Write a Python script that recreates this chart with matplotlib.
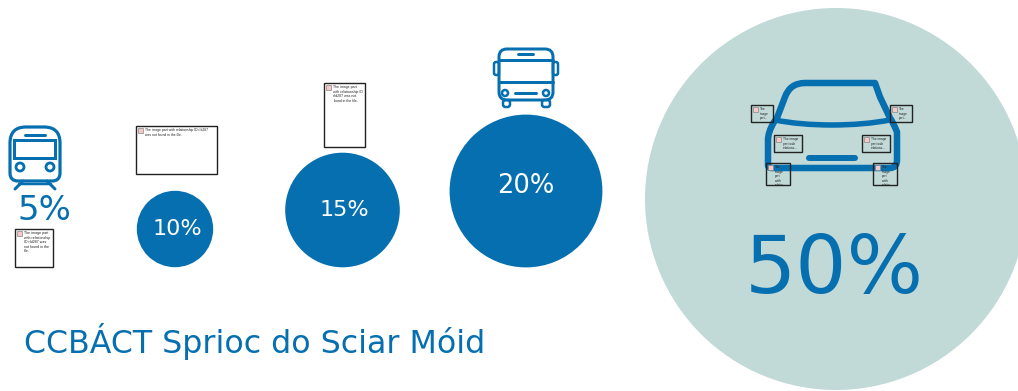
import matplotlib
matplotlib.use("Agg")
import matplotlib.pyplot as plt
from matplotlib.patches import Circle, FancyBboxPatch, Rectangle, PathPatch
from matplotlib.path import Path

shares = [5, 10, 15, 20, 50]
caption = "CCBÁCT Sprioc do Sciar Móid"
BLUE = "#066FB0"
TEAL = "#C1D9D7"
PX_PER_UNIT = 3.82

fig = plt.figure(figsize=(10.18, 3.91), dpi=100)
ax = fig.add_axes([0, 0, 1, 1])
ax.set_xlim(0, 1018)
ax.set_ylim(391, 0)
ax.axis("off")

def px(v):
    return v * 0.72

def line(pts, lw, color=BLUE):
    xs, ys = zip(*pts)
    ax.plot(xs, ys, color=color, lw=px(lw), solid_capstyle="round", solid_joinstyle="round", zorder=5)

def rbox(x0, y0, x1, y1, r, lw, fc="none"):
    ax.add_patch(FancyBboxPatch((x0 + r, y0 + r), x1 - x0 - 2 * r, y1 - y0 - 2 * r,
                                boxstyle=f"round,pad={r},rounding_size={r}",
                                fc=fc, ec=BLUE, lw=px(lw), zorder=5))

def ring(x, y, r, lw):
    ax.add_patch(Circle((x, y), r, fc="none", ec=BLUE, lw=px(lw), zorder=5))

def placeholder(x0, y0, x1, y1, text, fs=2.5, z=8, fc="white"):
    box = Rectangle((x0, y0), x1 - x0, y1 - y0, fc=fc, ec="#222222", lw=1.0, zorder=z)
    ax.add_patch(box)
    ax.add_patch(Rectangle((x0 + 2, y0 + 2), 5, 5, fc="#F8C8C8", ec="#888888", lw=0.5, zorder=z + 1))
    t = ax.text(x0 + 9, y0 + 2, text, fontsize=fs, color="#222222", va="top", ha="left",
                family="Liberation Sans", zorder=z + 1, linespacing=1.2)
    t.set_clip_path(box)

# circles
centres = {10: (175, 229), 15: (342.5, 210), 20: (526, 191), 50: (836, 199)}
colors = {10: BLUE, 15: BLUE, 20: BLUE, 50: TEAL}
for v in shares[1:]:
    ax.add_patch(Circle(centres[v], v * PX_PER_UNIT, fc=colors[v], ec="none", zorder=1))

# labels
ax.text(44, 211, f"{shares[0]}%", color=BLUE, fontsize=24.5, ha="center", va="center", zorder=6)
ax.text(177, 229, f"{shares[1]}%", color="white", fontsize=16, ha="center", va="center", zorder=6)
ax.text(344, 210, f"{shares[2]}%", color="white", fontsize=16, ha="center", va="center", zorder=6)
ax.text(526, 186, f"{shares[3]}%", color="white", fontsize=18.5, ha="center", va="center", zorder=6)
ax.text(834, 271, f"{shares[4]}%", color=BLUE, fontsize=58, ha="center", va="center", zorder=6)
ax.text(24, 342, caption, color=BLUE, fontsize=22.8, ha="left", va="center", zorder=6)

# train
tv = [(10, 173), (10, 143), (10, 127), (26, 127), (44, 127), (60, 127), (60, 143), (60, 173),
      (60, 181), (52, 181), (18, 181), (10, 181), (10, 173)]
tc = [Path.MOVETO, Path.LINETO, Path.CURVE3, Path.CURVE3, Path.LINETO, Path.CURVE3, Path.CURVE3, Path.LINETO,
      Path.CURVE3, Path.CURVE3, Path.LINETO, Path.CURVE3, Path.CURVE3]
ax.add_patch(PathPatch(Path(tv, tc), fc="none", ec=BLUE, lw=px(3.2), zorder=5))
ax.add_patch(Rectangle((14, 140), 41, 18, fc="none", ec=BLUE, lw=px(3), zorder=5))
line([(25, 135), (45, 135)], 3)
ring(20, 167, 4, 2.8)
ring(50, 167, 4, 2.8)
line([(23, 181), (15, 189)], 3)
line([(47, 181), (55, 189)], 3)
line([(19, 184), (51, 184)], 2.5)

# bus
rbox(499, 49, 553, 100, 8, 3)
line([(499, 59.5), (553, 59.5)], 3)
line([(499, 82), (553, 82)], 3)
line([(518, 54), (533, 54)], 3)
rbox(494, 62, 499, 75, 2, 2.5)
rbox(553, 62, 558, 75, 2, 2.5)
ring(505, 93, 3, 2.5)
ring(546, 93, 3, 2.5)
line([(515, 93), (536, 93)], 3)
rbox(503, 100, 510, 107, 2.5, 2.5)
rbox(542, 100, 550, 107, 2.5, 2.5)

# car
verts = [(771, 168), (768, 168), (768, 165), (768, 140), (768, 132), (774, 122), (777, 118),
         (785, 97), (790, 83), (805, 83), (815, 83), (850, 83), (864, 83), (875, 83), (880, 97),
         (890, 118), (893, 122), (897, 132), (897, 140), (897, 160), (897, 168), (890, 168), (885, 168)]
codes = [Path.MOVETO, Path.CURVE3, Path.CURVE3, Path.LINETO, Path.CURVE3, Path.CURVE3, Path.LINETO,
         Path.LINETO, Path.CURVE3, Path.CURVE3, Path.LINETO, Path.LINETO, Path.CURVE3, Path.CURVE3, Path.LINETO,
         Path.LINETO, Path.CURVE3, Path.CURVE3, Path.LINETO, Path.LINETO, Path.CURVE3, Path.CURVE3, Path.CLOSEPOLY]
ax.add_patch(PathPatch(Path(verts, codes), fc="none", ec=BLUE, lw=px(6.5), joinstyle="round", zorder=5))
ax.add_patch(PathPatch(Path([(775, 120), (800, 125), (832, 125), (864, 125), (890, 120)],
                            [Path.MOVETO, Path.CURVE3, Path.CURVE3, Path.CURVE3, Path.CURVE3]),
                       fc="none", ec=BLUE, lw=px(5.5), zorder=5))
line([(809, 158), (855, 158)], 6)

# broken image placeholders
placeholder(15, 229, 53, 267, "The image part\nwith relationship\nID rId287 was\nnot found in the\nfile.", 2.6)
placeholder(136, 126, 217, 174, "The image part with relationship ID rId287\nwas not found in the file.", 2.4)
placeholder(324, 83, 365, 147, "The image part\nwith relationship ID\nrId287 was not\nfound in the file.", 2.5)
for box, txt in [((751, 105, 773, 122), "The\nimage\npart..."),
                 ((890, 105, 912, 122), "The\nimage\npart..."),
                 ((774, 135, 802, 152), "The image\npart with\nrelations..."),
                 ((862, 135, 890, 152), "The image\npart with\nrelations..."),
                 ((766, 163, 790, 185), "The\nimage\npart\nwith\nrelatio..."),
                 ((873, 163, 897, 185), "The\nimage\npart\nwith\nrelatio...")]:
    placeholder(*box, txt, 2.3, fc="none")

fig.savefig("out.png", dpi=100, facecolor="white")
